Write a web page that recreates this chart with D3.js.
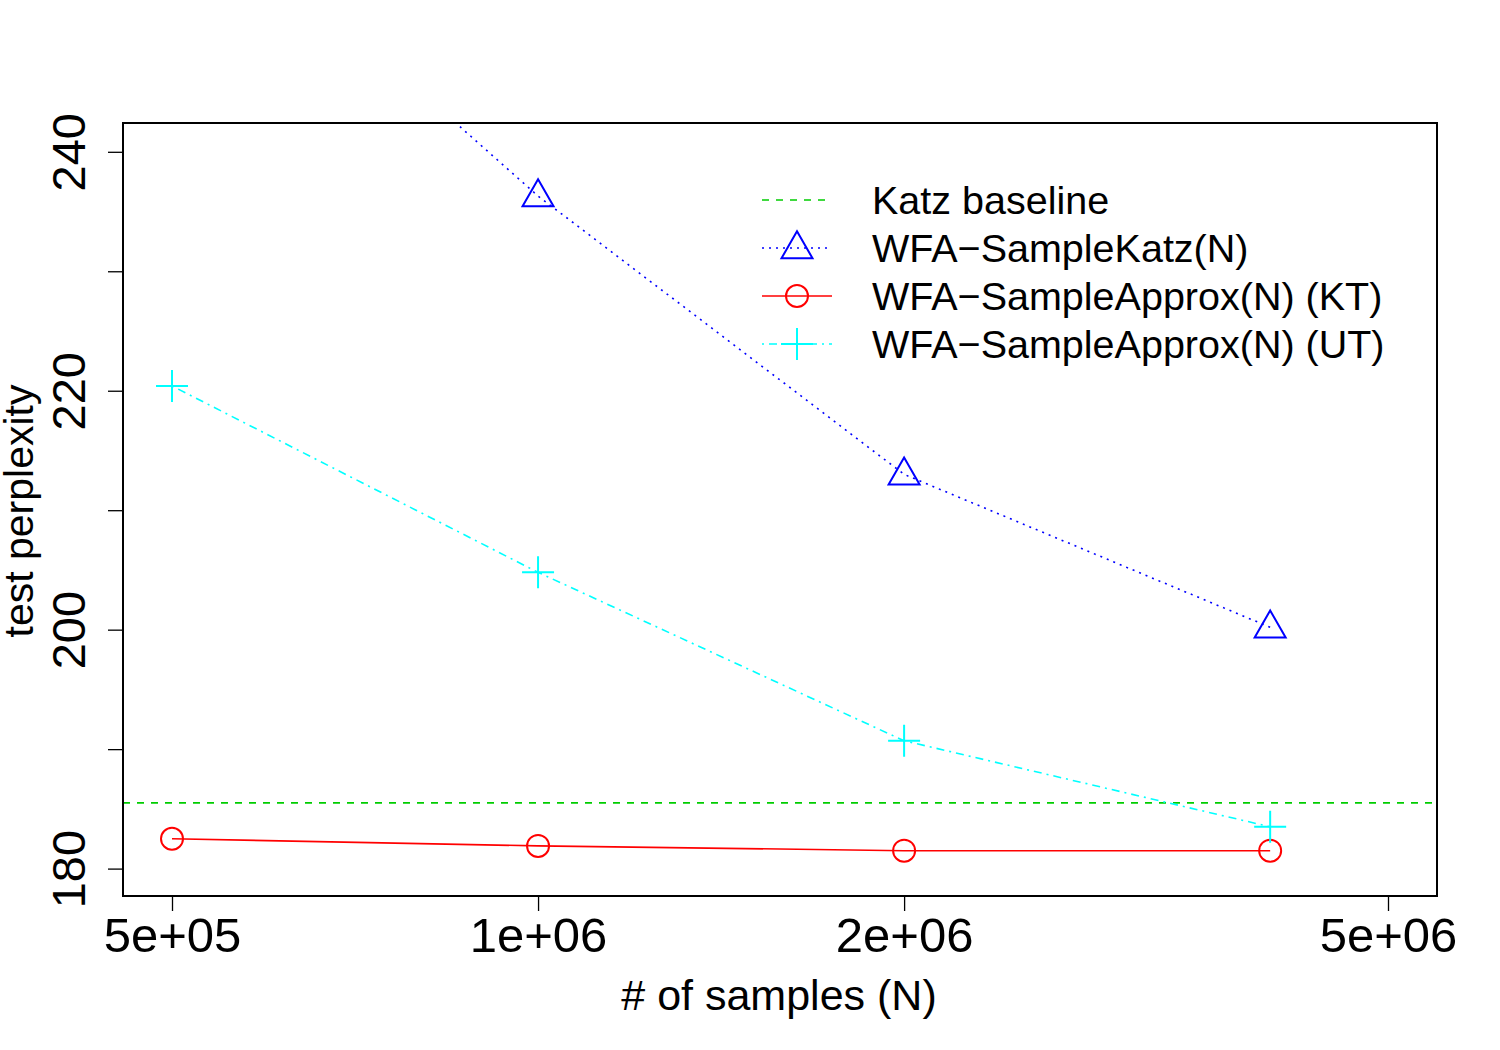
<!DOCTYPE html>
<html><head><meta charset="utf-8">
<script src="https://cdn.jsdelivr.net/npm/d3@7"></script>
<style>body{margin:0;background:#fff}text{font-family:"Liberation Sans",Arial,sans-serif}</style>
</head><body><svg id="c" width="1500" height="1050"></svg>
<script>
const samples = [5e5, 1e6, 2e6, 4e6];
const katzBaseline = 185.5;
const sampleKatz = [263.5, 236.3, 213.0, 200.2];
const approxKT = [182.5, 181.9, 181.5, 181.5];
const approxUT = [220.4, 204.8, 190.7, 183.5];
const xTicks = [5e5, 1e6, 2e6, 5e6];
const xTickLabels = ["5e+05", "1e+06", "2e+06", "5e+06"];
const yTicks = [180, 190, 200, 210, 220, 230, 240];
const yTickLabels = ["180", "", "200", "", "220", "", "240"];
const legendLabels = ["Katz baseline", "WFA\u2212SampleKatz(N)", "WFA\u2212SampleApprox(N) (KT)", "WFA\u2212SampleApprox(N) (UT)"];

const svg = d3.select("#c");
const box = {l:123, r:1437, t:123, b:896};
const x = d3.scaleLog().domain([5e5, 5e6]).range([172, 1388]);
const y = d3.scaleLinear().domain([180, 240]).range([868.6, 151.8]);

svg.append("defs").append("clipPath").attr("id","clip")
  .append("rect").attr("x",box.l).attr("y",box.t).attr("width",box.r-box.l).attr("height",box.b-box.t);
const g = svg.append("g").attr("clip-path","url(#clip)");

const styles = {
  katz: {color:"#00CD00", dash:"7,7"},
  sk: {color:"#0000FF", dash:"2,5"},
  kt: {color:"#FF0000", dash:null},
  ut: {color:"#00FFFF", dash:"2,5,8,5"}
};

g.append("line").attr("x1",box.l).attr("x2",box.r).attr("y1",y(katzBaseline)).attr("y2",y(katzBaseline))
  .attr("stroke",styles.katz.color).attr("stroke-width",1.6).attr("stroke-dasharray",styles.katz.dash);

const line = d3.line().x(d=>x(d[0])).y(d=>y(d[1]));
function series(vals, st){
  g.append("path").datum(samples.map((s,i)=>[s, vals[i]])).attr("d", line)
    .attr("fill","none").attr("stroke",st.color).attr("stroke-width",1.6)
    .attr("stroke-dasharray", st.dash);
}
series(sampleKatz, styles.sk);
series(approxKT, styles.kt);
series(approxUT, styles.ut);

function tri(sel, cx, cy, col){
  const h = 27, w = 31;
  sel.append("path").attr("d", `M${cx},${cy-h*0.62} L${cx+w/2},${cy+h*0.38} L${cx-w/2},${cy+h*0.38} Z`)
    .attr("fill","none").attr("stroke",col).attr("stroke-width",2);
}
function circ(sel, cx, cy, col){
  sel.append("circle").attr("cx",cx).attr("cy",cy).attr("r",11).attr("fill","none").attr("stroke",col).attr("stroke-width",2);
}
function plus(sel, cx, cy, col){
  sel.append("path").attr("d",`M${cx-16},${cy} H${cx+16} M${cx},${cy-16} V${cy+16}`)
    .attr("fill","none").attr("stroke",col).attr("stroke-width",2);
}
samples.forEach((s,i)=>{
  tri(g, x(s), y(sampleKatz[i]), styles.sk.color);
  circ(g, x(s), y(approxKT[i]), styles.kt.color);
  plus(g, x(s), y(approxUT[i]), styles.ut.color);
});

svg.append("rect").attr("x",box.l).attr("y",box.t).attr("width",box.r-box.l).attr("height",box.b-box.t)
  .attr("fill","none").attr("stroke","#000").attr("stroke-width",2);

const xa = svg.append("g").attr("transform",`translate(0,${box.b})`)
  .call(d3.axisBottom(x).tickValues(xTicks).tickFormat((d,i)=>xTickLabels[i]).tickSize(15).tickSizeOuter(0));
xa.select(".domain").attr("d", `M${x(xTicks[0])},0H${x(xTicks[xTicks.length-1])}`).attr("stroke-width",2);
xa.selectAll(".tick line").attr("stroke-width",1.3);
xa.selectAll(".tick text").attr("font-size",49).attr("font-family","Liberation Sans, Arial, sans-serif")
  .attr("y",56).attr("dy",null).attr("fill","#000");

const ya = svg.append("g").attr("transform",`translate(${box.l},0)`)
  .call(d3.axisLeft(y).tickValues(yTicks).tickFormat((d,i)=>yTickLabels[i]).tickSize(15).tickSizeOuter(0));
ya.select(".domain").attr("d", `M0,${y(180)}V${y(240)}`).attr("stroke-width",2);
ya.selectAll(".tick line").attr("stroke-width",1.3);
ya.selectAll(".tick text").attr("font-size",47).attr("font-family","Liberation Sans, Arial, sans-serif")
  .attr("x",null).attr("dy",null).attr("text-anchor","middle").attr("fill","#000")
  .attr("transform","translate(-38,0) rotate(-90)");

svg.append("text").attr("x",779).attr("y",1010).attr("text-anchor","middle").attr("font-size",43).text("# of samples (N)");
svg.append("text").attr("transform","translate(33,511) rotate(-90)").attr("text-anchor","middle").attr("font-size",41).text("test perplexity");

const lg = svg.append("g");
const legKeys = ["katz","sk","kt","ut"];
legKeys.forEach((k,i)=>{
  const cy = 200 + i*48;
  const st = styles[k];
  lg.append("line").attr("x1",762).attr("x2",832).attr("y1",cy).attr("y2",cy)
    .attr("stroke",st.color).attr("stroke-width",1.6).attr("stroke-dasharray",st.dash);
  if(k==="sk") tri(lg, 797, cy, st.color);
  if(k==="kt") circ(lg, 797, cy, st.color);
  if(k==="ut") plus(lg, 797, cy, st.color);
  lg.append("text").attr("x",872).attr("y",cy+14).attr("font-size",39.5).text(legendLabels[i]);
});
</script></body></html>
